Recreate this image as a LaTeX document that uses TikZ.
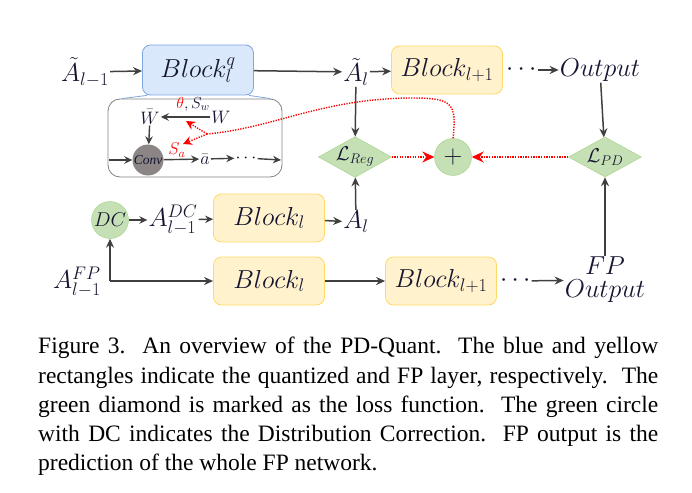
\RequirePackage{fix-cm}
\documentclass[tikz,border=0pt]{standalone}
\usepackage{fontspec}
\setmainfont{Liberation Serif}
\usetikzlibrary{arrows.meta,shapes.geometric,positioning}

\definecolor{qblue}{RGB}{218,232,252}
\definecolor{qblueline}{RGB}{126,166,224}
\definecolor{fpyellow}{RGB}{255,242,204}
\definecolor{fpline}{RGB}{255,217,102}
\definecolor{lossgreen}{RGB}{197,224,180}
\definecolor{lossline}{RGB}{160,210,130}
\definecolor{convgray}{RGB}{140,133,133}
\definecolor{ink}{RGB}{22,22,50}
\definecolor{arrowgray}{RGB}{64,64,64}
\definecolor{insetline}{RGB}{130,130,130}

\newcommand{\bigmath}{\fontsize{26}{28}\selectfont}
\newcommand{\smallmath}{\fontsize{18}{20}\selectfont}
\newcommand{\captionfont}{\fontsize{23.5}{29.3}\selectfont}

\begin{document}
\begin{tikzpicture}[x=1pt,y=-1pt,
  every node/.style={text=ink, inner sep=1pt},
  qblock/.style={draw=qblueline, fill=qblue, rounded corners=8pt, line width=0.8pt,
    minimum width=111pt, minimum height=50pt, font=\bigmath},
  fpblock/.style={draw=fpline, fill=fpyellow, rounded corners=8pt, line width=0.8pt,
    minimum width=111pt, minimum height=48pt, font=\bigmath},
  loss/.style={diamond, draw=lossline, fill=lossgreen, aspect=1.8, inner sep=0pt,
    minimum width=73pt, minimum height=40pt, font=\fontsize{20}{22}\selectfont},
  greencirc/.style={circle, draw=lossline, fill=lossgreen, minimum size=37pt, inner sep=0pt},
  conv/.style={circle, fill=convgray, minimum size=31pt, inner sep=0pt,
    font=\itshape\fontsize{13.5}{15}\selectfont},
  inset/.style={draw=insetline, rounded corners=12pt, line width=0.8pt,
    minimum width=174pt, minimum height=78pt},
  arr/.style={draw=arrowgray, line width=1.5pt, -{Stealth[length=9pt,width=8pt]}},
  arrsmall/.style={draw=arrowgray, line width=1.4pt, -{Stealth[length=8pt,width=7.5pt]}},
  reddot/.style={draw=red, line width=1.4pt, dash pattern=on 1.3pt off 1.3pt},
  redarr/.style={reddot, -{Stealth[length=12pt,width=11pt,fill=red]}},
  redtip/.style={reddot, -{Stealth[length=9pt,width=9pt,fill=red]}},
]
\useasboundingbox (0,0) rectangle (692,492);

% quantized branch
\node[font=\bigmath] (alm1) at (85,72) {$\tilde{A}_{l-1}$};
\node[qblock] (bq) at (198,70) {$Block^{q}_{l}$};
\node[font=\bigmath] (al) at (356,72) {$\tilde{A}_{l}$};
\node[fpblock] (b1) at (447,70) {$Block_{l+1}$};
\node[font=\bigmath] (dots1) [right=2pt of b1] {$\cdots$};
\node[font=\bigmath] (out) at (600,70) {$Output$};

\draw[arr] (alm1) -- (bq);
\draw[arr] (bq) -- (al);
\draw[arr] (al) -- (b1);
\draw[arr] (dots1) -- (out);

% zoom into the quantized block
\node[inset] (inset) at (195,138) {};
\draw[qblueline, line width=0.8pt] ([xshift=5pt]bq.south west) -- ([xshift=14pt]inset.north west);
\draw[qblueline, line width=0.8pt] ([xshift=-5pt]bq.south east) -- ([xshift=-12pt]inset.north east);

\node[font=\smallmath] (wbar) at (150,117) {$\bar{W}$};
\node[font=\smallmath] (w) at (221,117) {$W$};
\node[font=\fontsize{16}{18}\selectfont] (thsw) at (193,104) {$\color{red}\theta$$,S_w$};
\node[conv] (cv) at (148,160) {Conv};
\node[font=\smallmath] (abar) at (205,159) {$\bar{a}$};
\node[font=\smallmath] (dots2) at (246,158) {$\cdots$};
\node[text=red, font=\fontsize{17}{19}\selectfont] (sa) at (177,150) {$S_a$};
\coordinate (inl) at (109,160);
\coordinate (inr) at (281,160);

\draw[arrsmall] (w) -- (wbar);
\draw[arrsmall] (wbar) -- (cv);
\draw[arrsmall] (inl) -- (cv);
\draw[arrsmall] (cv) -- (abar);
\draw[arrsmall] (abar) -- (dots2);
\draw[arrsmall] (dots2) -- (inr);

% losses
\node[loss] (lreg) at (355,157) {$\mathcal{L}_{Reg}$};
\node[greencirc, font=\fontsize{26}{28}\selectfont] (plus) at (453,157) {$+$};
\node[loss] (lpd) at (605,157) {$\mathcal{L}_{PD}$};

\draw[arr] (al) -- (lreg);
\draw[arr] (out) -- (lpd);
\draw[redarr] (lreg) -- (plus);
\draw[redarr] (lpd) -- (plus);

% gradient back to the quantization parameters
\coordinate (split) at (207,134);
\coordinate (swtip) at (186,121);
\coordinate (satip) at (183,144);
\draw[reddot] (plus.north) .. controls (457,102) and (452,98) .. (410,98)
  .. controls (320,99) and (274,128) .. (split);
\draw[redtip] (split) -- (swtip);
\draw[redtip] (split) -- (satip);

% full precision branch with correction
\node[greencirc, font=\fontsize{20}{22}\selectfont] (dc) at (110,220) {$DC$};
\node[font=\bigmath] (adc) at (173,220) {$A^{DC}_{l-1}$};
\node[fpblock] (b2) at (269,218) {$Block_{l}$};
\node[font=\bigmath] (al2) at (356,222) {$A_{l}$};

\draw[arrsmall] (dc) -- (adc);
\draw[arrsmall] (adc) -- (b2);
\draw[arr] (b2) -- (al2);
\draw[arr] (al2) -- (lreg);

\node[font=\bigmath] (afp) at (77,282) {$A^{FP}_{l-1}$};
\coordinate (fork) at (110,281);
\node[fpblock] (b3) at (269,281) {$Block_{l}$};
\node[fpblock] (b4) at (441,281) {$Block_{l+1}$};
\node[font=\bigmath] (dots3) [right=2pt of b4] {$\cdots$};
\node[font=\fontsize{26}{26}\selectfont, align=center] (fpout) at (605,280) {$FP$\\[-3pt]$Output$};

\draw[arr] (fork) -- (dc);
\draw[arr] (fork) -- (b3);
\draw[arr] (b3) -- (b4);
\draw[arr] (dots3) -- (fpout);
\draw[arr] (fpout) -- (lpd);

% caption
\node[anchor=north west, text width=620pt, align=justify, inner sep=0pt,
  text=black, font=\captionfont] (caption) at (38,337)
  {Figure 3.\ \ An overview of the PD-Quant.\ \ The blue and yellow\linebreak
   rectangles indicate the quantized and FP layer, respectively.\ \ The\linebreak
   green diamond is marked as the loss function.\ \ The green circle\linebreak
   with DC indicates the Distribution Correction.\ \ FP output is the\linebreak
   prediction of the whole FP network.};
\end{tikzpicture}
\end{document}
